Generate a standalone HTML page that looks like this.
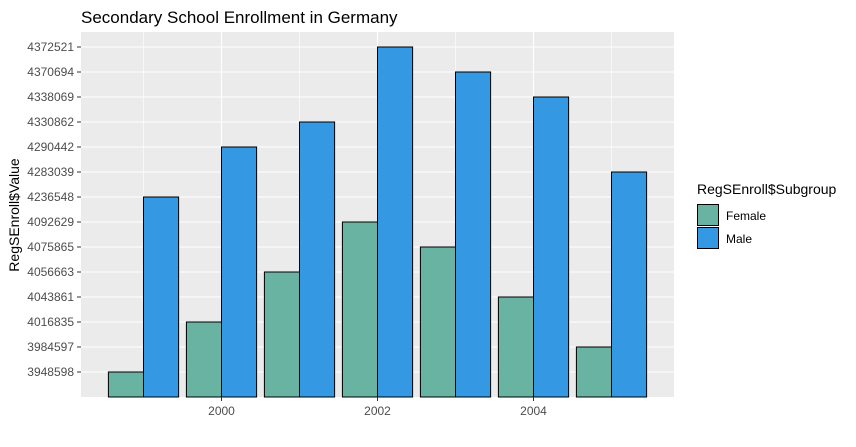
<!DOCTYPE html>
<html><head><meta charset="utf-8"><style>
body{margin:0;background:#fff;font-family:"Liberation Sans",Arial,sans-serif}
</style></head><body>
<svg id="chart" width="856" height="442" xmlns="http://www.w3.org/2000/svg" font-family="Liberation Sans, Arial, sans-serif">
<rect width="856" height="442" fill="#fff"/>
<text x="81" y="23" font-size="17" fill="#000">Secondary School Enrollment in Germany</text>
<rect x="81" y="32" width="593" height="365" fill="#ebebeb"/>
<g id="grid"></g>
<g id="bars"></g>
<g id="axes"></g>
<text transform="translate(19,215) rotate(-90)" text-anchor="middle" font-size="14" fill="#000">RegSEnroll$Value</text>
<g>
<text x="697" y="194" font-size="14" fill="#000">RegSEnroll$Subgroup</text>
<rect x="697.5" y="204.5" width="21" height="21" fill="#69b3a2" stroke="#000"/>
<text x="726" y="220" font-size="12" fill="#000">Female</text>
<rect x="697.5" y="227.5" width="21" height="21" fill="#3498e2" stroke="#000"/>
<text x="726" y="243" font-size="12" fill="#000">Male</text>
</g>
</svg>
<script>
const years=[1999,2000,2001,2002,2003,2004,2005];
const female=[3948598,4016835,4056663,4092629,4075865,4043861,3984597];
const male=[4236548,4290442,4330862,4372521,4370694,4338069,4283039];
const xTicks=[2000,2002,2004];
const xMinor=[1999,2001,2003,2005];
const NS="http://www.w3.org/2000/svg";
const levels=[...new Set(female.concat(male))].sort((a,b)=>a-b);
const x=v=>221.5+(v-2000)*78;
const y=v=>397-25*(levels.indexOf(v)+1);
function mk(tag,attrs,parent){const e=document.createElementNS(NS,tag);for(const k in attrs)e.setAttribute(k,attrs[k]);document.getElementById(parent).appendChild(e);return e;}
levels.forEach(v=>{
  const l=mk('line',{x1:81,x2:674,y1:y(v),y2:y(v),stroke:'#fff','stroke-width':1.1},'grid');
  
  
  const t=mk('line',{x1:77,x2:81,y1:y(v),y2:y(v),stroke:'#333'},'axes');
  
  
  const tx=mk('text',{x:74,y:y(v)+4,'text-anchor':'end','font-size':12,fill:'#4d4d4d'},'axes');
  tx.textContent=v;
  
  
});
xMinor.forEach(v=>{
  const l=mk('line',{x1:x(v),x2:x(v),y1:32,y2:397,stroke:'#fff','stroke-width':0.6},'grid');
  
  
});
xTicks.forEach(v=>{
  const l=mk('line',{x1:x(v),x2:x(v),y1:32,y2:397,stroke:'#fff','stroke-width':1.1},'grid');
  
  
  const t=mk('line',{x1:x(v),x2:x(v),y1:397,y2:401,stroke:'#333'},'axes');
  
  
  const tx=mk('text',{x:x(v),y:415,'text-anchor':'middle','font-size':12,fill:'#4d4d4d'},'axes');
  tx.textContent=v;
  
  
});
const bw=35.1;
years.forEach((yr,i)=>{
  const f=mk('rect',{x:x(yr)-bw,y:y(female[i]),width:bw,height:397-y(female[i]),fill:'#69b3a2',stroke:'#000','stroke-width':1},'bars');
  
  
  const m=mk('rect',{x:x(yr),y:y(male[i]),width:bw,height:397-y(male[i]),fill:'#3498e2',stroke:'#000','stroke-width':1},'bars');
  
  
});
</script>
</body></html>
